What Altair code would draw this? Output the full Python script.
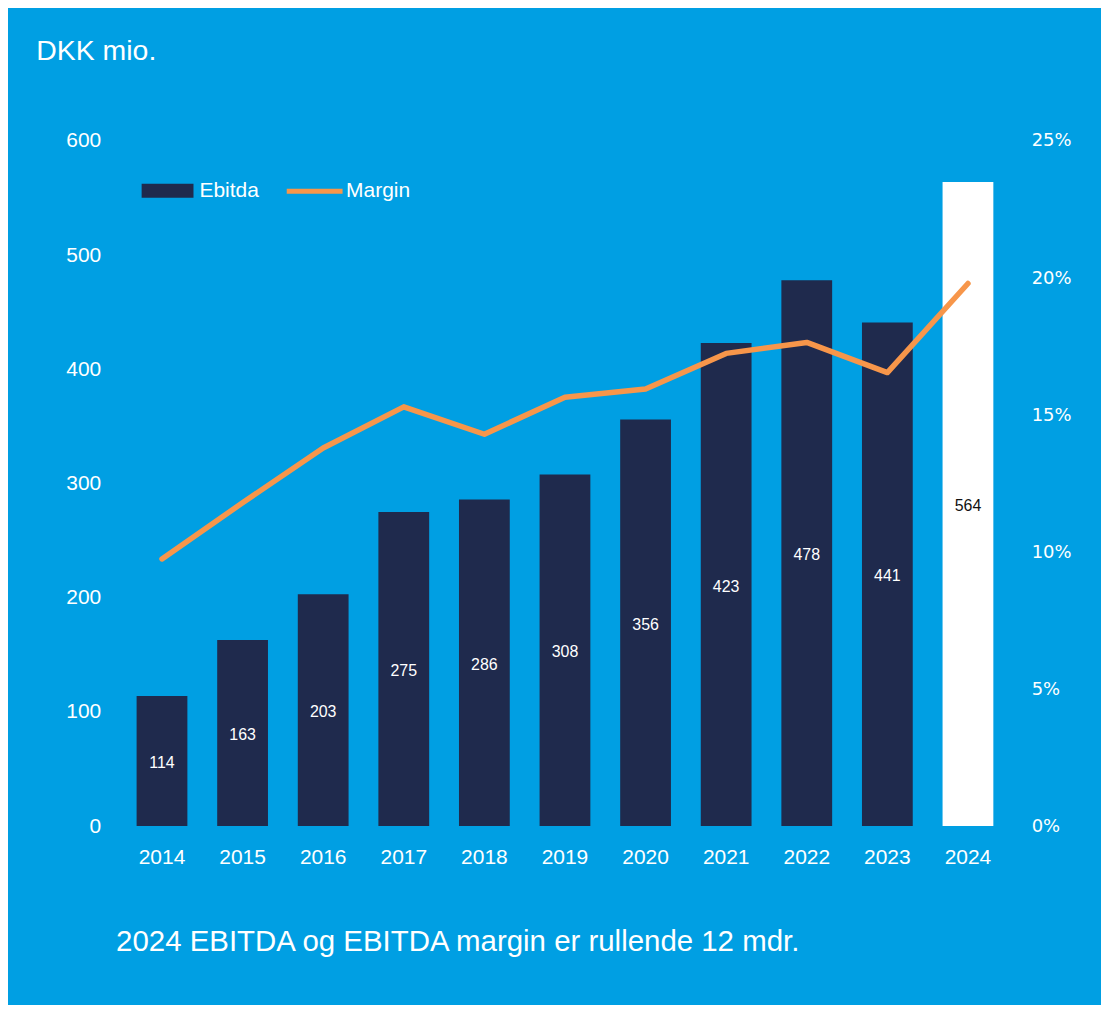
import altair as alt
import pandas as pd

years = ["2014", "2015", "2016", "2017", "2018", "2019", "2020", "2021", "2022", "2023", "2024"]
ebitda = [114, 163, 203, 275, 286, 308, 356, 423, 478, 441, 564]
margin_pct = [9.75, 11.8, 13.8, 15.3, 14.3, 15.65, 15.95, 17.25, 17.65, 16.55, 19.8]
bar_series = ["Ebitda"] * 10 + ["Ebitda 2024"]
left_ticks = [0, 100, 200, 300, 400, 500, 600]
right_ticks = [0, 0.05, 0.10, 0.15, 0.20, 0.25]
title_text = "DKK mio."
note_text = "2024 EBITDA og EBITDA margin er rullende 12 mdr."

BG = "#009FE3"
NAVY = "#1F2A4D"
ORANGE = "#F7964A"
WHITE = "#FFFFFF"
FONT = "Liberation Sans"

df = pd.DataFrame({
    "Year": years,
    "Ebitda": ebitda,
    "Margin": [m / 100 for m in margin_pct],
    "Series": bar_series,
    "Line": ["Margin"] * len(years),
})

PLOT_W, PLOT_H = 889, 687
PAD = {"left": 114, "top": 132, "right": 93, "bottom": 178}

x_enc = alt.X(
    "Year:N", sort=years,
    scale=alt.Scale(paddingInner=0.37, paddingOuter=0.185),
    axis=alt.Axis(title=None, labelAngle=0, labelColor=WHITE, labelFont=FONT,
                  labelFontSize=21, labelPadding=20, domain=False, ticks=False, grid=False),
)

base = alt.Chart(df)

bars = base.mark_bar().encode(
    x=x_enc,
    y=alt.Y("Ebitda:Q", scale=alt.Scale(domain=[0, 600]),
            axis=alt.Axis(orient="left", values=left_ticks, title=None, labelColor=WHITE,
                          labelFont=FONT, labelFontSize=21, labelPadding=21,
                          domain=False, ticks=False, grid=False)),
    color=alt.Color("Series:N",
                    scale=alt.Scale(domain=["Ebitda", "Ebitda 2024"], range=[NAVY, WHITE]),
                    legend=alt.Legend(values=["Ebitda"], orient="none", legendX=20, legendY=24,
                                      title=None, padding=0,
                                      symbolType="M-1,-0.27H1V0.27H-1Z", symbolSize=2704,
                                      symbolStrokeWidth=0, labelColor=WHITE, labelFont=FONT,
                                      labelFontSize=21, labelOffset=6)),
)

labels = base.transform_calculate(Mid="datum.Ebitda / 2").mark_text(
    font=FONT, fontSize=16, baseline="middle", dy=2
).encode(
    x=x_enc,
    y=alt.Y("Mid:Q", scale=alt.Scale(domain=[0, 600]), axis=None),
    text=alt.Text("Ebitda:Q"),
    color=alt.condition("datum.Year == '2024'", alt.value("#111111"), alt.value(WHITE)),
)

line = base.mark_line(strokeWidth=5.5, strokeCap="round", strokeJoin="round").encode(
    x=x_enc,
    y=alt.Y("Margin:Q", scale=alt.Scale(domain=[0, 0.25]),
            axis=alt.Axis(orient="right", values=right_ticks, format=".0%", title=None,
                          labelColor=WHITE, labelFont="DejaVu Sans", labelFontSize=18,
                          labelPadding=23, domain=False, ticks=False, grid=False)),
    color=alt.Color("Line:N", scale=alt.Scale(domain=["Margin"], range=[ORANGE]),
                    legend=alt.Legend(orient="none", legendX=163, legendY=20, title=None,
                                      padding=0, symbolType="stroke", symbolSize=3136,
                                      symbolStrokeWidth=5, labelColor=WHITE, labelFont=FONT,
                                      labelFontSize=21, labelOffset=1)),
)

title_layer = alt.Chart(pd.DataFrame({"t": [title_text]})).mark_text(
    align="left", baseline="alphabetic", font=FONT, fontSize=28.5, color=WHITE
).encode(x=alt.value(36 - 121.6), y=alt.value(59 - 140), text="t:N")

note_layer = alt.Chart(pd.DataFrame({"t": [note_text]})).mark_text(
    align="left", baseline="alphabetic", font=FONT, fontSize=29.5, color=WHITE
).encode(x=alt.value(116 - 121.6), y=alt.value(952 - 140), text="t:N")

chart = alt.layer(bars, labels, line, title_layer, note_layer).resolve_scale(
    y="independent", color="independent"
).properties(
    width=PLOT_W, height=PLOT_H, background=BG, padding=PAD,
    autosize=alt.AutoSizeParams(type="none"),
).configure_view(stroke=None)

chart.save("out.html", embed_options={"renderer": "svg", "actions": False})
